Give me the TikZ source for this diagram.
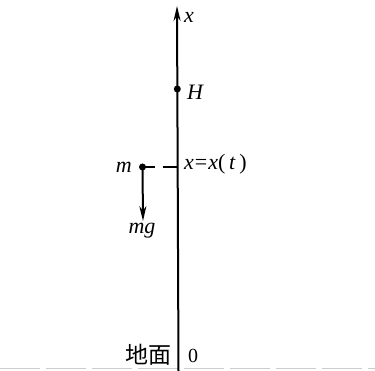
\documentclass[tikz,border=0pt]{standalone}
\usepackage{fontspec}
\setmainfont{Liberation Serif}
\newfontfamily\cjk{Noto Sans CJK SC}
\usetikzlibrary{arrows.meta}
\tikzset{
  axisline/.style={line width=2pt, -{Stealth[length=15pt, width=7pt]}},
  force/.style={line width=2pt, -{Stealth[length=15pt, width=7pt]}},
  dotpt/.style={circle, fill, inner sep=0pt, minimum size=7pt},
  lbl/.style={font=\fontsize{22}{26}\selectfont\itshape, inner sep=1pt},
  groundline/.style={black!20, dash pattern=on 40pt off 6pt, line width=1pt},
  guide/.style={line width=2pt, dash pattern=on 12pt off 8pt on 16pt}
}
\begin{document}
\begin{tikzpicture}[x=1pt, y=-1pt]
  \useasboundingbox (0,0) rectangle (375,371);
  % ground and axis
  \draw[groundline] (0,369) -- (375,369);
  \coordinate (ground) at (178.5,371);
  \coordinate (top) at (177,6);
  \draw[axisline] (ground) -- (top);
  \node[lbl, anchor=west] (xlbl) at (183,17) {x};
  % release height
  \node[dotpt] (Hpt) at (177.3,89) {};
  \node[lbl, anchor=west] (Hlbl) at (186,92) {H};
  % the falling mass
  \node[dotpt] (mpt) at (142.5,167) {};
  \coordinate (xt) at (178,167);
  \draw[guide] (mpt.center) -- (xt);
  \node[lbl, anchor=east] (mlbl) at (133,167) {m};
  \node[lbl, anchor=west, font=\fontsize{22}{26}\selectfont] (xtlbl) at (183,164) {\textit{x}\kern1pt=\kern1pt\textit{x}(\,\textit{t}\,)};
  \coordinate (mgend) at (143,221);
  \draw[force] (mpt.center) -- (mgend);
  \node[lbl] (mglbl) at (142,231) {mg};
  % ground label
  \node[font=\cjk\fontsize{23}{25}\selectfont, inner sep=0pt] (dimian) at (148,355) {地面};
  \node[font=\fontsize{20}{22}\selectfont, inner sep=0pt] (zero) at (193,356) {0};
\end{tikzpicture}
\end{document}
